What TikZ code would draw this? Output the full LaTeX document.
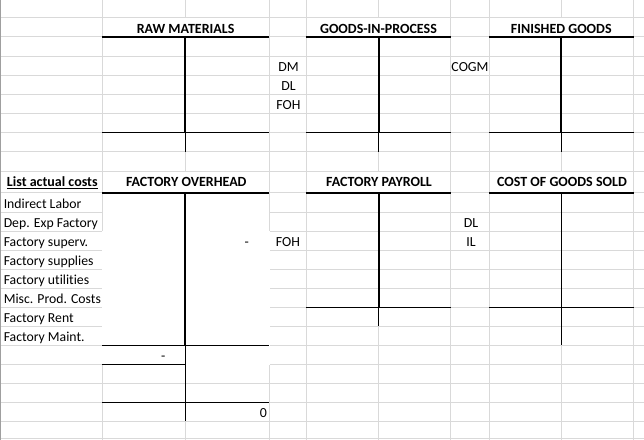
\documentclass[tikz,border=0pt]{standalone}
\usepackage{fontspec}
\setmainfont{Carlito}[Ligatures={NoCommon,NoRequired,NoContextual}]
\begin{document}
\begin{tikzpicture}[x=0.75pt,y=-0.75pt,
  grid/.style={draw=gray!30,line width=0.75pt},
  thk/.style={draw=black,line width=1.5pt},
  thn/.style={draw=black,line width=0.75pt},
  hdr/.style={font=\fontsize{10.5}{12}\selectfont\bfseries,anchor=base,inner sep=0},
  lbl/.style={font=\fontsize{10.4}{12}\selectfont,anchor=base,inner sep=0},
  lst/.style={font=\fontsize{10.3}{12}\selectfont,anchor=base west,inner sep=0}]
\useasboundingbox (0,0) rectangle (644,440);
\fill[white] (0,0) rectangle (644,440);
% spreadsheet grid
\foreach \x in {102.3,185.3,269.3,306.3,378.7,450.7,489.3,561.3,633.7}
  \draw[grid] (\x,0) -- (\x,440);
\foreach \y in {17.3,36.7,56,75.3,94.7,113.3,132.3,151.7,171.3,192.7,212.3,231,250,269,288.3,307.3,326.3,345.3,364.3,383,402.3,421.3,438.7}
  \draw[grid] (0,\y) -- (644,\y);
\draw[line width=0.75pt,gray!75] (0.4,0) -- (0.4,440);
% merged header cells
\foreach \x in {185.3,378.7,561.3}{
  \fill[white] (\x-1.2,17.8) rectangle (\x+1.2,36.2);
  \fill[white] (\x-1.2,171.8) rectangle (\x+1.2,192.2);
}
% filled cells of factory overhead
\fill[white] (103,193.2) rectangle (268.6,231);
\fill[white] (101.5,231) rectangle (270.1,364.9);
% T-accounts
\draw[thk] (102.3,36.7) -- (269.3,36.7);
\draw[thk] (185.3,36.7) -- (185.3,132.3);
\draw[thn] (102.3,132.3) -- (269.3,132.3);
\draw[thn] (185.3,132.3) -- (185.3,151.7);
\draw[thk] (306.3,36.7) -- (450.7,36.7);
\draw[thk] (378.7,36.7) -- (378.7,132.3);
\draw[thn] (306.3,132.3) -- (450.7,132.3);
\draw[thn] (378.7,132.3) -- (378.7,151.7);
\draw[thk] (489.3,36.7) -- (633.7,36.7);
\draw[thk] (561.3,36.7) -- (561.3,132.3);
\draw[thn] (489.3,132.3) -- (633.7,132.3);
\draw[thn] (561.3,132.3) -- (561.3,151.7);
\draw[thk] (102.3,192.7) -- (269.3,192.7);
\draw[thk] (185.3,192.7) -- (185.3,345.3);
\draw[thn] (102.3,345.3) -- (269.3,345.3);
\draw[thn] (185.3,345.3) -- (185.3,421.3);
\draw[thn] (102.3,364.3) -- (185.3,364.3);
\draw[thn] (102.3,402.3) -- (269.3,402.3);
\draw[thk] (306.3,192.7) -- (450.7,192.7);
\draw[thk] (378.7,192.7) -- (378.7,307.3);
\draw[thn] (306.3,307.3) -- (450.7,307.3);
\draw[thn] (378.7,307.3) -- (378.7,326.3);
\draw[thk] (489.3,192.7) -- (633.7,192.7);
\draw[thn] (561.3,192.7) -- (561.3,345.3);
\draw[thn] (489.3,307.3) -- (633.7,307.3);
% texts
\node[hdr] (rm) at (185.6,33.3) {RAW MATERIALS};
\node[hdr] (gip) at (378.5,33.3) {GOODS-IN-PROCESS};
\node[hdr] (fg) at (561.3,33.3) {FINISHED GOODS};
\node[lbl] (dm) at (288.5,71.3) {DM};
\node[lbl] (dla) at (288.5,90.7) {DL};
\node[lbl] (foha) at (288.5,109.3) {FOH};
\node[lbl] (cogm) at (470,71.3) {COGM};
\node[hdr] (lac) at (52.3,186) {\underline{List actual costs}};
\node[hdr] (foh) at (186.3,186) {FACTORY OVERHEAD};
\node[hdr] (fp) at (379,186) {FACTORY PAYROLL};
\node[hdr] (cogs) at (562,186) {COST OF GOODS SOLD};
\node[lst] (l1) at (3.5,208.3) {Indirect Labor};
\node[lst] (l2) at (3.5,227) {Dep. Exp Factory};
\node[lst] (l3) at (3.5,246) {Factory superv.};
\node[lst] (l4) at (3.5,265) {Factory supplies};
\node[lst] (l5) at (3.5,284.3) {Factory utilities};
\node[lst] (l6) at (3.5,303.3) {Misc. Prod. Costs};
\node[lst] (l7) at (3.5,322.3) {Factory Rent};
\node[lst] (l8) at (3.5,341.3) {Factory Maint.};
\node[lbl] (dasha) at (246.7,246) {-};
\node[lbl] (fohb) at (288,246) {FOH};
\node[lbl] (dlb) at (471,227.3) {DL};
\node[lbl] (il) at (471,246.3) {IL};
\node[lbl] (dashb) at (163.3,360.3) {-};
\node[lbl] (zero) at (263.3,417.3) {0};
\end{tikzpicture}
\end{document}
